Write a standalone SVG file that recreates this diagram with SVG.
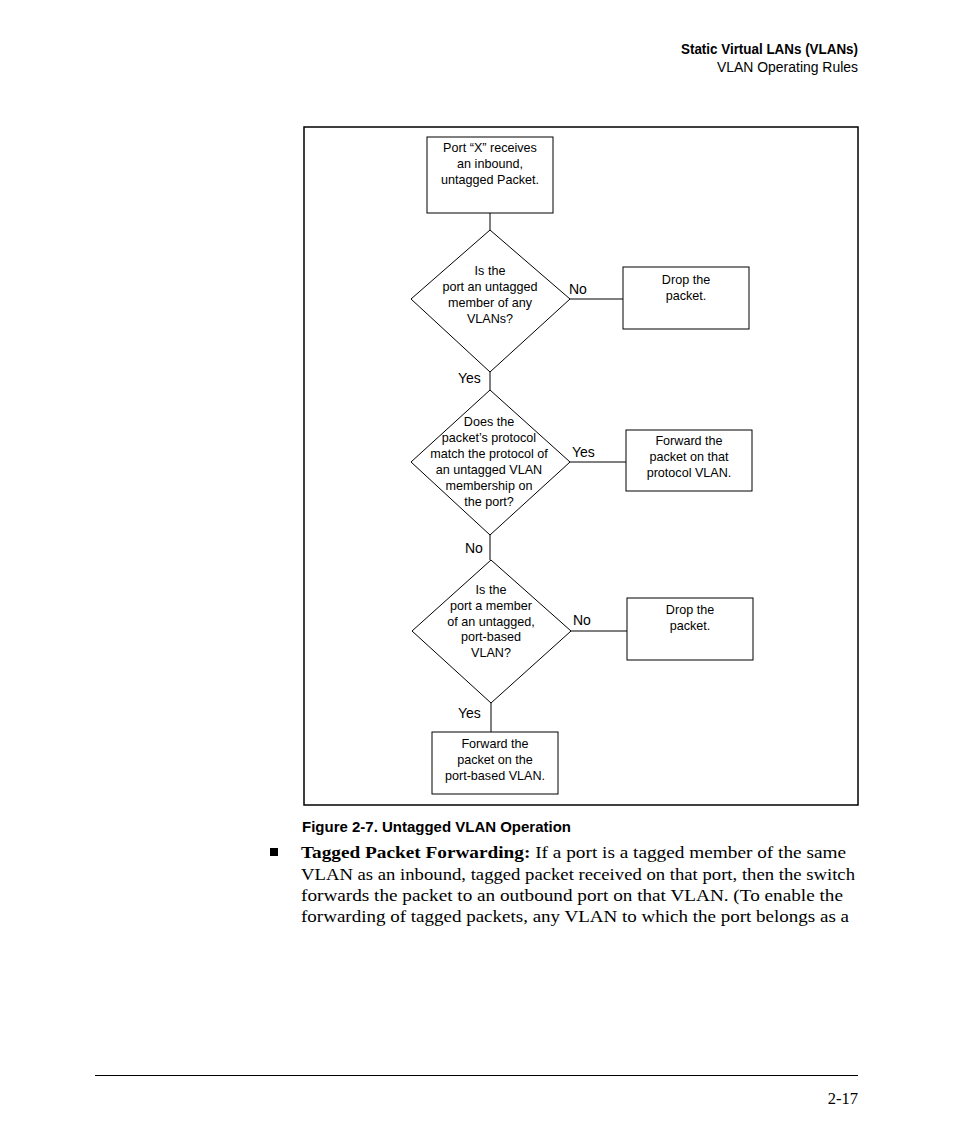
<svg xmlns="http://www.w3.org/2000/svg" width="954" height="1145" viewBox="0 0 954 1145">
<style>
.bg{fill:#ffffff}
.frame{fill:none;stroke:#000;stroke-width:1.5}
.box{fill:#fff;stroke:#000;stroke-width:1}
.conn{stroke:#000;stroke-width:1;fill:none}
.nt{font-family:"Liberation Sans",Arial,sans-serif;font-size:12.6px;fill:#000;text-anchor:middle}
.lbl{font-family:"Liberation Sans",Arial,sans-serif;font-size:14px;fill:#000}
.hdr{font-family:"Liberation Sans",Arial,sans-serif;font-size:14px;fill:#000;text-anchor:end}
.cap{font-family:"Liberation Sans",Arial,sans-serif;font-size:15px;font-weight:bold;fill:#000}
.body{font-family:"Liberation Serif","Times New Roman",serif;font-size:16.5px;fill:#000}
</style>
<rect class="bg" x="0" y="0" width="954" height="1145"/>
<g id="header">
<text class="hdr" x="858" y="54" font-weight="bold" textLength="177" lengthAdjust="spacingAndGlyphs">Static Virtual LANs (VLANs)</text>
<text class="hdr" x="858" y="72" textLength="141" lengthAdjust="spacingAndGlyphs">VLAN Operating Rules</text>
</g>
<rect class="frame" x="304" y="127" width="554" height="678"/>
<g id="connectors">
<line class="conn" x1="490" y1="213" x2="490" y2="230"/>
<line class="conn" x1="570" y1="299" x2="623" y2="299"/>
<line class="conn" x1="490" y1="372" x2="490" y2="390"/>
<line class="conn" x1="570" y1="462" x2="626" y2="462"/>
<line class="conn" x1="490" y1="535" x2="490" y2="560"/>
<line class="conn" x1="571" y1="631" x2="627" y2="631"/>
<line class="conn" x1="491" y1="703" x2="491" y2="732"/>
<text class="lbl" x="569" y="294">No</text>
<text class="lbl" x="458" y="383">Yes</text>
<text class="lbl" x="572" y="457">Yes</text>
<text class="lbl" x="465" y="553">No</text>
<text class="lbl" x="573" y="625">No</text>
<text class="lbl" x="458" y="718">Yes</text>
</g>
<g id="start">
<rect class="box" x="427" y="137" width="126" height="76"/>
<text class="nt" x="490" y="152">Port “X” receives</text>
<text class="nt" x="490" y="168">an inbound,</text>
<text class="nt" x="490" y="184">untagged Packet.</text>
</g>
<g id="decision1">
<polygon class="box" points="490,230 570,299 490,372 411,299"/>
<text class="nt" x="490" y="275">Is the</text>
<text class="nt" x="490" y="291">port an untagged</text>
<text class="nt" x="490" y="307">member of any</text>
<text class="nt" x="490" y="323">VLANs?</text>
</g>
<g id="drop1">
<rect class="box" x="623" y="267" width="126" height="62"/>
<text class="nt" x="686" y="284">Drop the</text>
<text class="nt" x="686" y="300">packet.</text>
</g>
<g id="decision2">
<polygon class="box" points="490,390 570,462 490,535 411,462"/>
<text class="nt" x="489" y="426">Does the</text>
<text class="nt" x="489" y="442">packet’s protocol</text>
<text class="nt" x="489" y="458">match the protocol of</text>
<text class="nt" x="489" y="474">an untagged VLAN</text>
<text class="nt" x="489" y="490">membership on</text>
<text class="nt" x="489" y="506">the port?</text>
</g>
<g id="forward-protocol">
<rect class="box" x="626" y="430" width="126" height="61"/>
<text class="nt" x="689" y="445">Forward the</text>
<text class="nt" x="689" y="461">packet on that</text>
<text class="nt" x="689" y="477">protocol VLAN.</text>
</g>
<g id="decision3">
<polygon class="box" points="491,560 571,631 491,703 412,631"/>
<text class="nt" x="491" y="594">Is the</text>
<text class="nt" x="491" y="610">port a member</text>
<text class="nt" x="491" y="626">of an untagged,</text>
<text class="nt" x="491" y="641">port-based</text>
<text class="nt" x="491" y="657">VLAN?</text>
</g>
<g id="drop2">
<rect class="box" x="627" y="598" width="126" height="62"/>
<text class="nt" x="690" y="614">Drop the</text>
<text class="nt" x="690" y="630">packet.</text>
</g>
<g id="forward-port">
<rect class="box" x="432" y="732" width="126" height="62"/>
<text class="nt" x="495" y="748">Forward the</text>
<text class="nt" x="495" y="764">packet on the</text>
<text class="nt" x="495" y="780">port-based VLAN.</text>
</g>
<g id="caption">
<text class="cap" x="302" y="832" textLength="269" lengthAdjust="spacingAndGlyphs">Figure 2-7.  Untagged VLAN Operation</text>
</g>
<g id="bodytext">
<rect x="270" y="848" width="8" height="8" fill="#000"/>
<text class="body" x="301" y="858" textLength="545" lengthAdjust="spacingAndGlyphs"><tspan font-weight="bold">Tagged Packet Forwarding:</tspan> If a port is a tagged member of the same</text>
<text class="body" x="301" y="880" textLength="554" lengthAdjust="spacingAndGlyphs">VLAN as an inbound, tagged packet received on that port, then the switch</text>
<text class="body" x="301" y="901" textLength="542" lengthAdjust="spacingAndGlyphs">forwards the packet to an outbound port on that VLAN. (To enable the</text>
<text class="body" x="301" y="922" textLength="548" lengthAdjust="spacingAndGlyphs">forwarding of tagged packets, any VLAN to which the port belongs as a</text>
</g>
<g id="footer">
<line x1="95" y1="1075.5" x2="858" y2="1075.5" stroke="#000" stroke-width="1"/>
<text class="body" x="858" y="1104" font-size="15px" text-anchor="end">2-17</text>
</g>
</svg>
